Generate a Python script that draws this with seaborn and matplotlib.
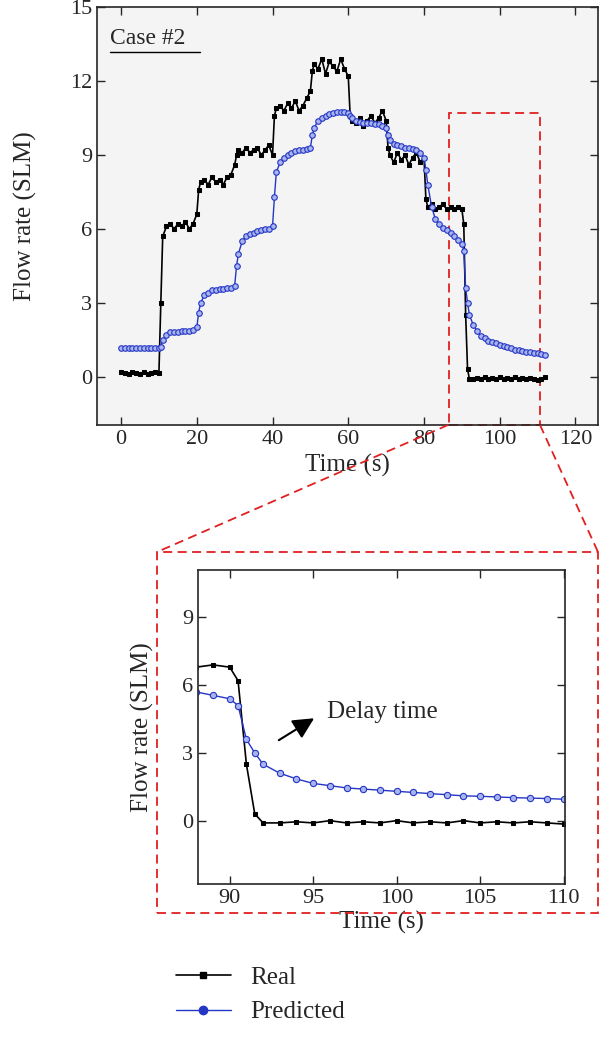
import numpy as np
import pandas as pd
import matplotlib.pyplot as plt
import seaborn as sns
from matplotlib.lines import Line2D
from matplotlib.patches import Rectangle

# ---- dados ----
time_s = [0, 1, 2, 3, 4, 5, 6, 7, 8, 9, 10, 10.5, 11, 12, 13, 14, 15, 16, 17, 18, 19, 20,
          20.5, 21, 22, 23, 24, 25, 26, 27, 28, 29, 30, 30.5, 31, 32, 33, 34, 35, 36, 37, 38, 39, 40,
          40.5, 41, 42, 43, 44, 45, 46, 47, 48, 49, 50, 50.5, 51, 52, 53, 54, 55, 56, 57, 58, 59, 60,
          60.5, 61, 62, 63, 64, 65, 66, 67, 68, 69, 70, 70.5, 71, 72, 73, 74, 75, 76, 77, 78, 79, 80,
          80.5, 81, 82, 83, 84, 85, 86, 87, 88, 89, 90, 90.5, 91, 91.5, 92, 93, 94, 95, 96, 97, 98, 99,
          100, 101, 102, 103, 104, 105, 106, 107, 108, 109, 110, 111, 112]

real = [0.2, 0.15, 0.1, 0.2, 0.15, 0.1, 0.2, 0.1, 0.15, 0.2, 0.15, 3.0, 5.7, 6.1, 6.2, 6.0, 6.2, 6.1, 6.3, 6.0, 6.2, 6.6,
        7.6, 7.9, 8.0, 7.8, 8.1, 7.9, 8.0, 7.8, 8.1, 8.2, 8.6,
        9.0, 9.2, 9.1, 9.3, 9.1, 9.2, 9.3, 9.0, 9.2, 9.4, 9.0,
        10.6, 10.9, 11.0, 10.8, 11.1, 10.9, 11.2, 10.8, 11.0, 11.3, 11.6,
        12.4, 12.7, 12.5, 12.9, 12.3, 12.8, 12.6, 12.4, 12.9, 12.5, 12.2,
        10.6, 10.4, 10.3, 10.5, 10.2, 10.4, 10.6, 10.3, 10.5, 10.8, 10.4,
        9.3, 9.0, 8.7, 9.1, 8.8, 9.0, 8.6, 8.9, 9.1, 8.7, 8.9,
        7.2, 6.9, 7.0, 6.8, 6.9, 7.0, 6.8, 6.9, 6.8, 6.9, 6.8, 6.2, 2.5, 0.3, -0.1,
        -0.1, -0.05, -0.1, 0.0, -0.1, -0.05, -0.1, 0.0, -0.1, -0.05, -0.1, 0.0, -0.1, -0.05, -0.1, -0.05, -0.1, -0.15, -0.1, 0.0]

predicted = [1.15, 1.15, 1.15, 1.15, 1.15, 1.15, 1.15, 1.15, 1.15, 1.15, 1.15, 1.2, 1.5, 1.7, 1.8, 1.8, 1.8, 1.85, 1.85, 1.85, 1.9, 2.0,
             2.6, 3.0, 3.3, 3.4, 3.5, 3.5, 3.55, 3.55, 3.6, 3.6, 3.7,
             4.5, 5.0, 5.5, 5.7, 5.8, 5.85, 5.9, 5.95, 6.0, 6.0, 6.1,
             7.3, 8.3, 8.7, 8.9, 9.0, 9.1, 9.15, 9.2, 9.2, 9.25, 9.3,
             9.8, 10.1, 10.4, 10.5, 10.6, 10.65, 10.7, 10.75, 10.75, 10.75, 10.7,
             10.6, 10.5, 10.4, 10.35, 10.3, 10.3, 10.3, 10.25, 10.25, 10.2, 10.1,
             9.8, 9.6, 9.45, 9.4, 9.35, 9.3, 9.3, 9.25, 9.2, 9.1, 8.9,
             8.4, 7.8, 6.9, 6.4, 6.2, 6.05, 5.95, 5.85, 5.7, 5.55, 5.4, 5.1, 3.6, 3.0, 2.5,
             2.1, 1.85, 1.65, 1.55, 1.45, 1.4, 1.35, 1.3, 1.25, 1.2, 1.15, 1.1, 1.08, 1.05, 1.02, 1.0, 0.98, 0.95, 0.92, 0.9]

data = pd.DataFrame({'time': time_s, 'real': real, 'pred': predicted})

sns.set_style('ticks')
plt.rcParams['font.family'] = ['Liberation Serif', 'DejaVu Serif']
plt.rcParams['font.size'] = 16

fig = plt.figure(figsize=(6, 10.46), dpi=100)


def desenha(ax, df, ms):
    sns.lineplot(data=df, x='time', y='real', ax=ax, color='black', lw=1.2,
                 marker='s', markersize=ms, markeredgecolor='black')
    sns.lineplot(data=df, x='time', y='pred', ax=ax, color='#2436c4', lw=1,
                 marker='o', markersize=ms + 1, markerfacecolor='#a8b4ee', markeredgecolor='#2436c4', markeredgewidth=0.8)
    ax.tick_params(direction='in', top=True, right=True, length=6, width=1, labelsize=16)
    for s in ax.spines.values():
        s.set_linewidth(1.2)


# ---- gráfico principal ----
ax = fig.add_axes([0.162, 0.594, 0.835, 0.399])
desenha(ax, data, 3)
ax.set_facecolor('#f4f4f4')
ax.set_xlim(-6.3, 126)
ax.set_ylim(-1.95, 15)
ax.set_xticks([0, 20, 40, 60, 80, 100, 120])
ax.set_yticks([0, 3, 6, 9, 12, 15])
ax.set_xlabel('Time (s)', fontsize=18, labelpad=4)
ax.set_ylabel('Flow rate (SLM)', fontsize=18, labelpad=24)
ax.text(0.026, 0.925, 'Case #2', transform=ax.transAxes, fontsize=17, va='center')
ax.plot([0.026, 0.205], [0.893, 0.893], transform=ax.transAxes, color='black', lw=1)
ax.add_patch(Rectangle((86.5, -1.95), 24.2, 12.65, fill=False, ec='#e02020', ls=(0, (5, 3)), lw=1.3, clip_on=False))

# ---- detalhe ----
ax2 = fig.add_axes([0.33, 0.155, 0.612, 0.300])
desenha(ax2, data[(data['time'] >= 88) & (data['time'] <= 111)], 3.5)
ax2.set_xlim(88.1, 110.1)
ax2.set_ylim(-2.8, 11.1)
ax2.set_xticks([90, 95, 100, 105, 110])
ax2.set_yticks([0, 3, 6, 9])
ax2.set_xlabel('Time (s)', fontsize=18, labelpad=2)
ax2.set_ylabel('Flow rate (SLM)', fontsize=18, labelpad=20)
ax2.annotate('', xy=(95.2, 4.6), xytext=(92.8, 3.5),
             arrowprops=dict(arrowstyle='-|>,head_width=0.4,head_length=0.8', color='black', lw=1.5))
ax2.text(95.8, 4.8, 'Delay time', fontsize=18, va='center')

# caixa vermelha externa e linhas de ligação (coordenadas da figura)
W, H = 600, 1046
red = dict(color='#e02020', ls=(0, (5, 3)), lw=1.3)
fig.add_artist(Rectangle((157 / W, 1 - 913 / H), 441 / W, 361 / H, fill=False, ec='#e02020',
                         ls=(0, (5, 3)), lw=1.3, transform=fig.transFigure))
fig.add_artist(Line2D([448 / W, 157 / W], [1 - 425 / H, 1 - 552 / H], transform=fig.transFigure, **red))
fig.add_artist(Line2D([540 / W, 598 / W], [1 - 425 / H, 1 - 552 / H], transform=fig.transFigure, **red))

# ---- legenda ----
handles = [Line2D([], [], color='black', lw=1.2, marker='s', markersize=4),
           Line2D([], [], color='#2436c4', lw=1, marker='o', markersize=6, markerfacecolor='#2436c4')]
fig.legend(handles, ['Real', 'Predicted'], loc='lower left', bbox_to_anchor=(0.255, 0.0),
           frameon=False, fontsize=18, handlelength=2.2, labelspacing=0.5)

fig.savefig('out.png', dpi=100)
